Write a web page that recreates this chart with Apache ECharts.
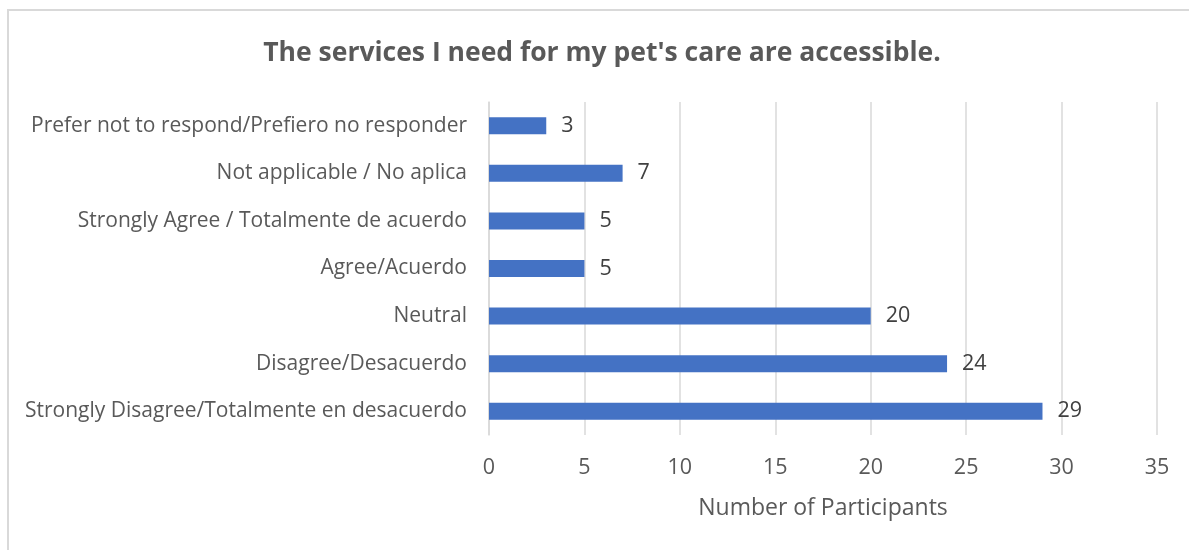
<!DOCTYPE html>
<html>
<head>
<meta charset="utf-8">
<script src="https://cdn.jsdelivr.net/npm/echarts@6/dist/echarts.min.js"></script>
<style>
html,body{margin:0;padding:0;background:#fff;}
#frame{position:absolute;left:7px;top:9px;width:1200px;height:560px;border:2px solid #d9d9d9;box-sizing:border-box;}
#chart{position:absolute;left:0;top:0;width:1189px;height:550px;}
</style>
</head>
<body>
<div id="frame"></div>
<div id="chart"></div>
<script>
const titleText = "The services I need for my pet's care are accessible.";
const categories = [
  "Prefer not to respond/Prefiero no responder",
  "Not applicable / No aplica",
  "Strongly Agree / Totalmente de acuerdo",
  "Agree/Acuerdo",
  "Neutral",
  "Disagree/Desacuerdo",
  "Strongly Disagree/Totalmente en desacuerdo"
];
const values = [3, 7, 5, 5, 20, 24, 29];
const xAxisName = "Number of Participants";
const xMin = 0, xMax = 35, xInterval = 5;

const font = "'Open Sans', sans-serif";
const chart = echarts.init(document.getElementById('chart'));
chart.setOption({
  animation: false,
  title: {
    text: titleText,
    left: 597, top: 35, textAlign: 'center',
    textStyle: {fontFamily: font, fontSize: 26.5, fontWeight: 'bold', color: '#595959'}
  },
  grid: {left: 489, right: 32, top: 102, bottom: 115, containLabel: false},
  xAxis: {
    type: 'value', min: xMin, max: xMax, interval: xInterval,
    name: xAxisName, nameLocation: 'middle', nameGap: 62,
    nameTextStyle: {fontFamily: font, fontSize: 23, color: '#595959'},
    axisLine: {show: false}, axisTick: {show: false},
    axisLabel: {fontFamily: font, fontSize: 21.5, color: '#595959', margin: 22},
    splitLine: {lineStyle: {color: '#d9d9d9', width: 1.5}}
  },
  yAxis: {
    type: 'category', data: categories, inverse: true,
    axisLine: {show: true, lineStyle: {color: '#d9d9d9', width: 1.5}},
    axisTick: {show: false},
    axisLabel: {fontFamily: font, fontSize: 21, color: '#595959', margin: 22}
  },
  series: [{
    type: 'bar', data: values, barWidth: 17,
    itemStyle: {color: '#4472C4'},
    label: {show: true, position: 'right', distance: 15, fontFamily: font, fontSize: 21.5, color: '#404040'}
  }]
});
</script>
</body>
</html>
